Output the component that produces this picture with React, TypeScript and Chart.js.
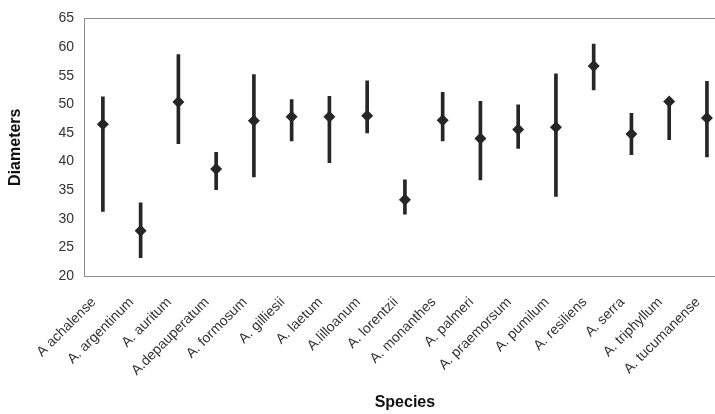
import React, { useEffect, useRef } from "react";
import { Chart, registerables } from "chart.js";

Chart.register(...registerables);

const species = [
  "A achalense",
  "A. argentinum",
  "A. auritum",
  "A.depauperatum",
  "A. formosum",
  "A. gilliesii",
  "A. laetum",
  "A.lilloanum",
  "A. lorentzii",
  "A. monanthes",
  "A. palmeri",
  "A. praemorsum",
  "A. pumilum",
  "A. resiliens",
  "A. serra",
  "A. triphyllum",
  "A. tucumanense",
];

const minDiameters = [31.3, 23.2, 43.1, 35.1, 37.3, 43.6, 39.8, 45.0, 30.8, 43.6, 36.8, 42.3, 33.9, 52.5, 41.2, 43.8, 40.8];
const maxDiameters = [51.3, 32.8, 58.7, 41.6, 55.2, 50.8, 51.4, 54.1, 36.8, 52.1, 50.5, 49.9, 55.3, 60.5, 48.4, 51.0, 54.0];
const meanDiameters = [46.5, 27.9, 50.4, 38.7, 47.1, 47.8, 47.8, 48.0, 33.3, 47.2, 44.0, 45.6, 46.0, 56.7, 44.8, 50.5, 47.6];

const yMin = 20;
const yMax = 65;
const yStep = 5;

const FONT = "'Liberation Sans', Arial, Helvetica, sans-serif";
const INK = "#262626";

const framePlugin = {
  id: "frame",
  afterDraw(chart: any) {
    const { ctx, chartArea } = chart;
    ctx.save();
    ctx.strokeStyle = "#8c8c8c";
    ctx.lineWidth = 1;
    ctx.strokeRect(
      Math.round(chartArea.left) + 0.5,
      Math.round(chartArea.top) + 0.5,
      Math.round(chartArea.right - chartArea.left),
      Math.round(chartArea.bottom - chartArea.top)
    );
    ctx.restore();
  },
};

export default function App() {
  const ref = useRef<HTMLCanvasElement | null>(null);

  useEffect(() => {
    if (!ref.current) return;
    const ranges = species.map((_, i) => [minDiameters[i], maxDiameters[i]]);
    const chart = new Chart(ref.current, {
      type: "bar",
      data: {
        labels: species,
        datasets: [
          {
            type: "line",
            data: meanDiameters,
            showLine: false,
            pointStyle: "rectRot",
            pointRadius: 6,
            pointBackgroundColor: INK,
            pointBorderColor: INK,
            pointBorderWidth: 0,
            order: 0,
          } as any,
          {
            type: "bar",
            data: ranges as any,
            backgroundColor: INK,
            borderWidth: 0,
            barThickness: 3,
            order: 1,
          },
        ],
      },
      plugins: [framePlugin],
      options: {
        animation: false,
        responsive: false,
        events: [],
        layout: { padding: { top: 14, right: 6, left: 0, bottom: 0 } },
        plugins: {
          legend: { display: false },
          tooltip: { enabled: false },
        },
        scales: {
          x: {
            offset: true,
            grid: { display: false, drawTicks: false },
            border: { display: false },
            ticks: {
              autoSkip: false,
              maxRotation: 45,
              minRotation: 45,
              padding: 18,
              labelOffset: -9,
              color: "#333",
              font: { family: FONT, size: 14 },
            },
            title: {
              display: true,
              text: "Species",
              color: "#111",
              font: { family: FONT, size: 16, weight: "bold" },
              padding: { top: 0, bottom: 2 },
            },
            afterFit(scale: any) {
              scale.height = 138;
            },
          },
          y: {
            min: yMin,
            max: yMax,
            grid: { display: false, drawTicks: false },
            border: { display: false },
            ticks: {
              stepSize: yStep,
              padding: 10,
              color: "#333",
              font: { family: FONT, size: 14 },
            },
            title: {
              display: true,
              text: "Diameters",
              color: "#111",
              font: { family: FONT, size: 16, weight: "bold" },
              padding: { top: 6, bottom: 0 },
            },
            afterFit(scale: any) {
              scale.width = 84;
            },
          },
        },
      },
    });
    return () => chart.destroy();
  }, []);

  return (
    <div
      style={{
        position: "fixed",
        left: 0,
        top: 0,
        width: 715,
        height: 414,
        overflow: "hidden",
        background: "#fff",
      }}
    >
      <canvas ref={ref} width={737} height={414} style={{ display: "block" }} />
    </div>
  );
}
